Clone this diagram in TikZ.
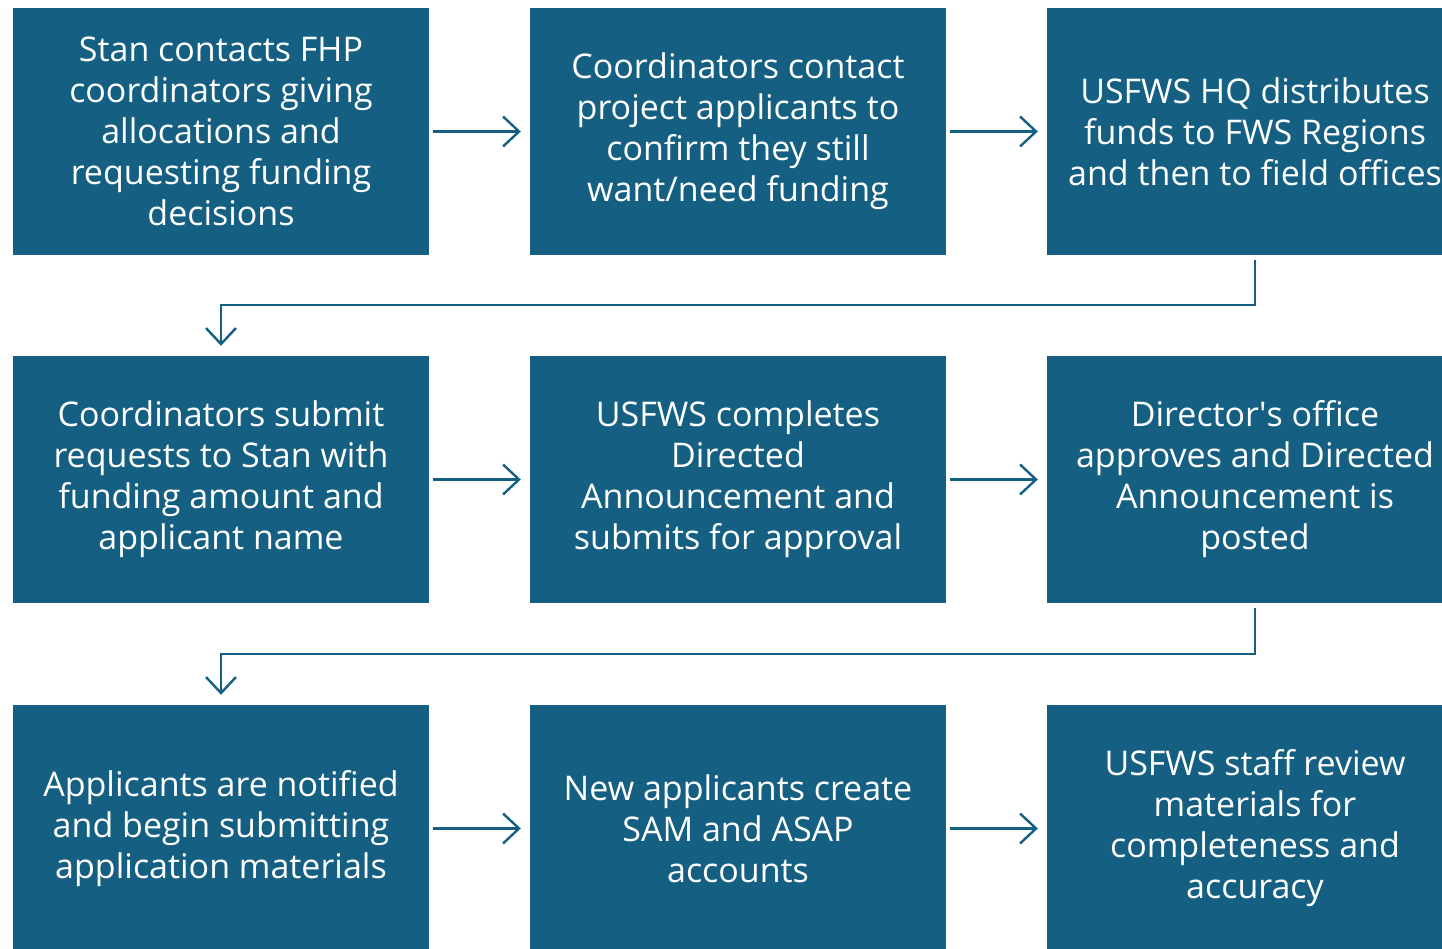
\documentclass[tikz,border=0pt]{standalone}
\usepackage{fontspec}
\setmainfont{Open Sans}
\usetikzlibrary{arrows.meta}
\definecolor{boxblue}{HTML}{156082}
\tikzset{
  stepbox/.style={fill=boxblue, draw=none, minimum width=416pt, minimum height=247pt, inner sep=0pt,
    text=white, align=center, font=\fontsize{34}{41}\selectfont},
  conn/.style={draw=boxblue, line width=2.4pt, -{Straight Barb[length=16pt,width=30pt,line width=2.4pt]}},
}
\begin{document}
\begin{tikzpicture}[x=1pt,y=-1pt]
\useasboundingbox (0,0) rectangle (1442,949);
\begin{scope}
\clip (0,0) rectangle (1442,949);
\node[stepbox] (a) at (221,131.5) {Stan contacts FHP\\coordinators giving\\allocations and\\requesting funding\\decisions};
\node[stepbox] (b) at (738,131.5) {Coordinators contact\\project applicants to\\confirm they still\\want/need funding};
\node[stepbox] (c) at (1255,131.5) {USFWS HQ distributes\\funds to FWS Regions\\and then to field offices};
\node[stepbox] (d) at (221,479.5) {Coordinators submit\\requests to Stan with\\funding amount and\\applicant name};
\node[stepbox] (e) at (738,479.5) {USFWS completes\\Directed\\Announcement and\\submits for approval};
\node[stepbox] (f) at (1255,479.5) {Director\textquotesingle s office\\approves and Directed\\Announcement is\\posted};
\node[stepbox] (g) at (221,828.5) {Applicants are notified\\and begin submitting\\application materials};
\node[stepbox] (h) at (738,828.5) {New applicants create\\SAM and ASAP\\accounts};
\node[stepbox] (i) at (1255,828.5) {USFWS staff review\\materials for\\completeness and\\accuracy};
\end{scope}
\draw[conn] ([xshift=4pt]a.east) -- ([xshift=-9pt]b.west);
\draw[conn] ([xshift=4pt]b.east) -- ([xshift=-9pt]c.west);
\draw[conn] ([xshift=4pt]d.east) -- ([xshift=-9pt]e.west);
\draw[conn] ([xshift=4pt]e.east) -- ([xshift=-9pt]f.west);
\draw[conn] ([xshift=4pt]g.east) -- ([xshift=-9pt]h.west);
\draw[conn] ([xshift=4pt]h.east) -- ([xshift=-9pt]i.west);
\coordinate (c1) at (1255,305);
\coordinate (f1) at (1255,654);
\draw[conn] ([yshift=-5pt]c.south) -- (c1) -| ([yshift=10pt]d.north);
\draw[conn] ([yshift=-5pt]f.south) -- (f1) -| ([yshift=10pt]g.north);
\end{tikzpicture}
\end{document}
